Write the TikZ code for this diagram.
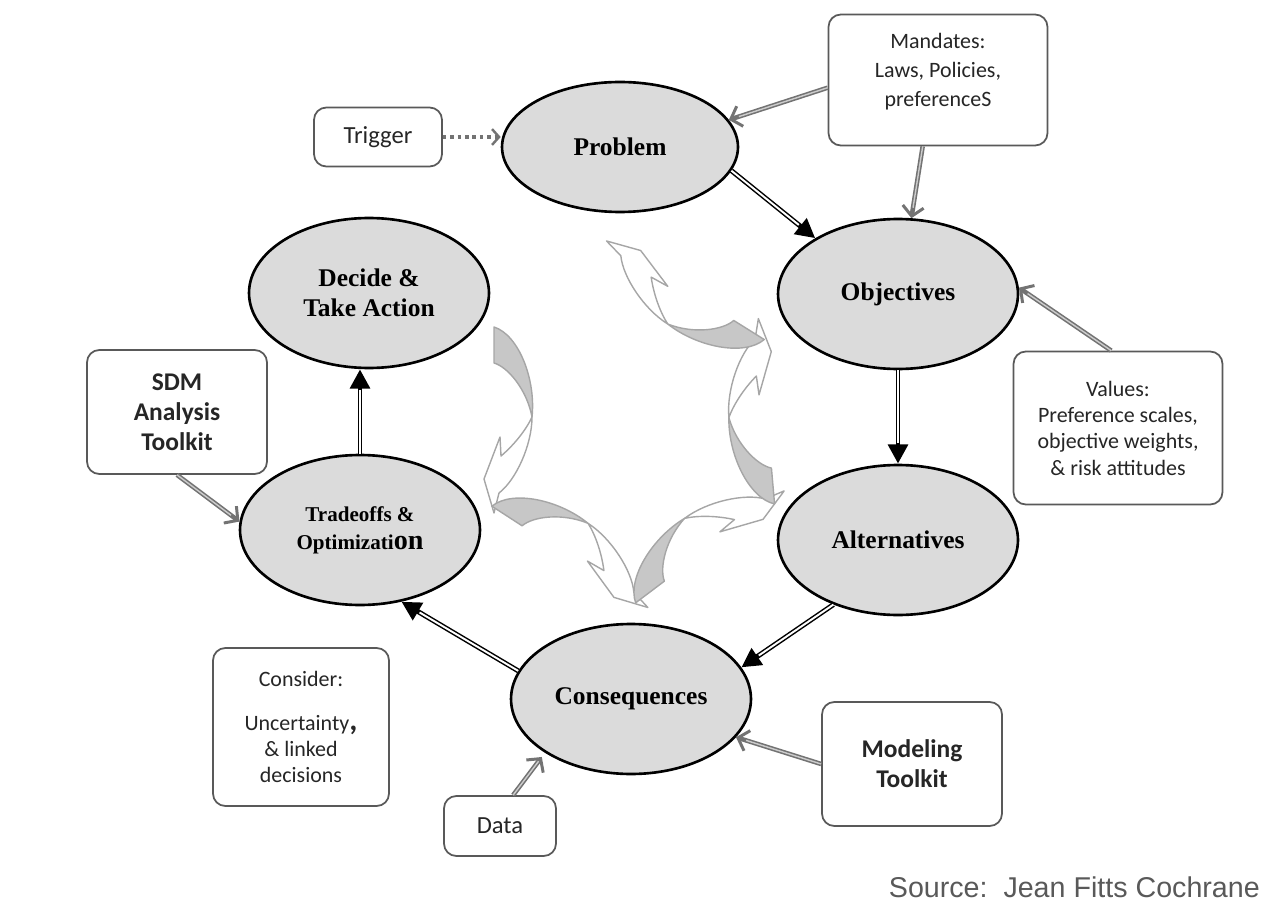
\documentclass[tikz,border=0pt]{standalone}
\usepackage{fontspec}
\setmainfont{Liberation Serif}
\setsansfont{Carlito}
\newfontfamily\sourcefont{Liberation Sans}
\usetikzlibrary{arrows.meta,shapes.geometric}

\begin{document}
\begin{tikzpicture}[x=0.02cm, y=-0.02cm,
    stage/.style={ellipse, draw, line width=1.5pt, fill=black!14, minimum width=4.8cm, minimum height=3cm, inner sep=0pt, align=center, font=\fontsize{14.5}{17}\selectfont\bfseries},
    note/.style={draw=black!65, line width=1pt, rounded corners=7pt, fill=white, align=center, text=black!85, inner sep=0pt, font=\sffamily\fontsize{12.5}{15}\selectfont},
    flow/.style={line width=2.8pt, -{Triangle[length=11pt,width=11pt]}, postaction={draw=white, line width=1.1pt, -, shorten >=12pt}},
    feed/.style={draw=black!55, line width=2.6pt, -{Straight Barb[length=5.5pt,width=12pt,line width=1.7pt]}, postaction={draw=black!20, line width=0.8pt, -, shorten >=6pt}},
    cue/.style={draw=black!55, line width=2pt, dash pattern=on 2pt off 2.2pt, -{Straight Barb[length=4pt,width=9pt,line width=1.4pt]}},
    twist/.style={draw=black!35, line width=0.8pt, line join=round}]
    \useasboundingbox (0,0) rectangle (1270,915);

    % swirl in the middle
    \foreach \px/\py/\ang in {494/345/-90, 507/516/-33, 650/592/37, 773/486/95, 749/330/148}{
        \begin{scope}[shift={(\px,\py)}, rotate=\ang]
            \filldraw[twist, fill=black!22] (-18,0) .. controls (-10,-25) and (35,-42) .. (72,-38) .. controls (45,-33) and (22,-14) .. (18,0) -- cycle;
            \filldraw[twist, fill=white] (72,-38) .. controls (100,-38) and (135,-22) .. (148,-5) -- (168,0) -- (134,10) -- (92,-6) -- (111,-7) .. controls (100,-20) and (85,-32) .. (72,-38) -- cycle;
        \end{scope}
    }

    % the cycle
    \node[stage, minimum width=4.72cm, minimum height=2.6cm] (prob) at (620,147) {Problem};
    \node[stage] (obj) at (898,294) {Objectives};
    \node[stage] (alt) at (898,540) {Alternatives};
    \node[stage] (cons) at (631,699) {Consequences};
    \node[stage, font=\fontsize{12}{16}\selectfont\bfseries] (trade) at (360,530) {Tradeoffs \&\\Optimizati{\fontsize{16}{16}\selectfont on}};
    \node[stage] (dec) at (369,293) {Decide \&\\Take Action};

    % inputs
    \node[note, minimum width=2.56cm, minimum height=1.18cm, font=\sffamily\fontsize{14}{16}\selectfont] (trig) at (378,137) {Trigger};
    \node[note, minimum width=4.38cm, minimum height=2.62cm, text depth=12pt, font=\sffamily\fontsize{12.5}{16.5}\selectfont] (mand) at (938,80) {Mandates:\\Laws, Policies,\\preferenceS};
    \node[note, minimum width=4.18cm, minimum height=3.06cm] (val) at (1118,428) {Values:\\Preference scales,\\objective weights,\\\& risk attitudes};
    \node[note, minimum width=3.6cm, minimum height=2.48cm, font=\sffamily\bfseries\fontsize{14.5}{17}\selectfont] (sdm) at (177,412) {SDM\\Analysis\\Toolkit};
    \node[note, minimum width=3.52cm, minimum height=3.16cm] (cnsd) at (301,727) {Consider:\\[10pt]Uncertainty{\bfseries\fontsize{18}{18}\selectfont,}\\\& linked\\decisions};
    \node[note, minimum width=2.24cm, minimum height=1.2cm, font=\sffamily\fontsize{14}{16}\selectfont] (data) at (500,826) {Data};
    \node[note, minimum width=3.6cm, minimum height=2.48cm, font=\sffamily\bfseries\fontsize{14.5}{17}\selectfont] (model) at (912,764) {Modeling\\Toolkit};
    \node[anchor=east, text=black!65, font=\sourcefont\fontsize{16.3}{18}\selectfont] (src) at (1266,887) {Source:~~Jean Fitts Cochrane};

    \draw[cue] (trig.east) -- (trig.east -| prob.west);
    \draw[flow] (prob.-12) -- (obj.146);
    \draw[flow] (obj.south) -- (alt.north);
    \draw[flow] (alt.-135) -- (cons.16);
    \draw[flow] (cons.166) -- (trade.-60);
    \draw[flow] (trade.north) -- (trade.north |- dec.south);
    \draw[feed] (mand.184) -- (prob.14);
    \draw[feed] (mand.-103) -- (obj.80);
    \draw[feed] (val.95) -- (obj.3);
    \draw[feed] (sdm.south) -- (trade.176);
    \draw[feed, shorten >=3pt] (data.67) -- (cons.212);
    \draw[feed] (model.west) -- (cons.-20);
\end{tikzpicture}
\end{document}
